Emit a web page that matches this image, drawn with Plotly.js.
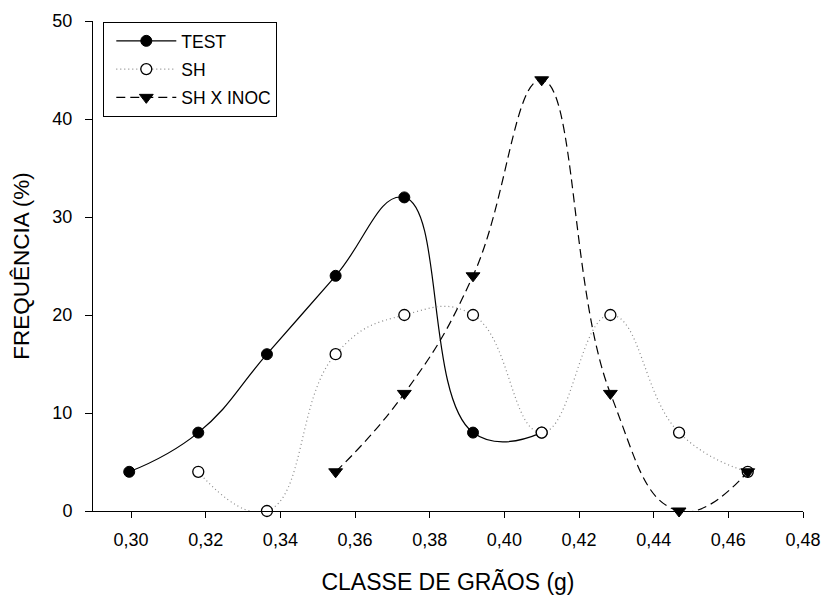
<!DOCTYPE html>
<html>
<head>
<meta charset="utf-8">
<script src="https://cdn.plot.ly/plotly-3.0.1.min.js"></script>
<style>html,body{margin:0;padding:0;background:#fff;}#chart{width:826px;height:595px;}</style>
</head>
<body>
<div id="chart"></div>
<script>
// Grain class (g)
const classes = [0.2995, 0.3180, 0.3364, 0.3548, 0.3732, 0.3916, 0.4100, 0.4284, 0.4468, 0.4652];
const testX = classes.slice(0, 7);
const testY = [4, 8, 16, 24, 32, 8, 8];
const shX = classes.slice(1, 10);
const shY = [4, 0, 16, 20, 20, 8, 20, 8, 4];
const inocX = classes.slice(3, 10);
const inocY = [4, 12, 24, 44, 12, 0, 4];
const xTicks = [0.30, 0.32, 0.34, 0.36, 0.38, 0.40, 0.42, 0.44, 0.46, 0.48];
const yTicks = [0, 10, 20, 30, 40, 50];

const FONT = 'Liberation Sans, Arial, sans-serif';

const traces = [
  {x: testX, y: testY, name: 'TEST', legendgroup: 'a', type: 'scatter', mode: 'lines+markers',
   line: {color: '#000', width: 1.2, shape: 'spline', smoothing: 1.3},
   marker: {symbol: 'circle', size: 11, color: '#000', line: {color: '#000', width: 1}},
   cliponaxis: false},
  {x: shX, y: shY, name: 'SH', legendgroup: 'b', type: 'scatter', mode: 'lines+markers',
   line: {color: '#888', width: 1.2, shape: 'spline', smoothing: 1.3, dash: '1px,3px'},
   marker: {symbol: 'circle', size: 11, color: '#fff', line: {color: '#000', width: 1.3}},
   cliponaxis: false},
  {x: inocX, y: inocY, name: 'SH X INOC', legendgroup: 'c', type: 'scatter', mode: 'lines+markers',
   line: {color: '#000', width: 1.2, shape: 'spline', smoothing: 1.3, dash: '9px,5px'},
   marker: {symbol: 'triangle-down', size: 12, color: '#000', line: {color: '#000', width: 1}},
   cliponaxis: false}
];

const layout = {
  width: 826, height: 595,
  margin: {l: 93, r: 23, t: 21, b: 84},
  paper_bgcolor: '#fff', plot_bgcolor: '#fff',
  separators: ', ',
  font: {family: FONT, size: 18, color: '#000'},
  showlegend: true,
  legend: {x: 0.0145, y: 0.998, xanchor: 'left', yanchor: 'top',
           bgcolor: '#fff', bordercolor: '#000', borderwidth: 1,
           font: {family: FONT, size: 17.5, color: '#000'},
           itemwidth: 60, indentation: 7, tracegroupgap: 2.5},
  xaxis: {range: [0.2898, 0.48], tickvals: xTicks, tickformat: '.2f',
          ticks: 'outside', ticklen: 6, tickwidth: 1, tickcolor: '#000',
          showline: true, linecolor: '#000', linewidth: 1, showgrid: false, zeroline: false,
          tickfont: {family: FONT, size: 18}, ticklabelstandoff: 6,
          title: {text: 'CLASSE DE GRÃOS (g)', font: {family: FONT, size: 23}, standoff: 26}},
  yaxis: {range: [0, 50], tickvals: yTicks,
          ticks: 'outside', ticklen: 7, tickwidth: 1, tickcolor: '#000',
          showline: true, linecolor: '#000', linewidth: 1, showgrid: false, zeroline: false,
          tickfont: {family: FONT, size: 18}, ticklabelstandoff: 9,
          title: {text: 'FREQUÊNCIA (%)', font: {family: FONT, size: 22.5}, standoff: 16}}
};

Plotly.newPlot('chart', traces, layout, {staticPlot: true, displayModeBar: false});
</script>
</body>
</html>
